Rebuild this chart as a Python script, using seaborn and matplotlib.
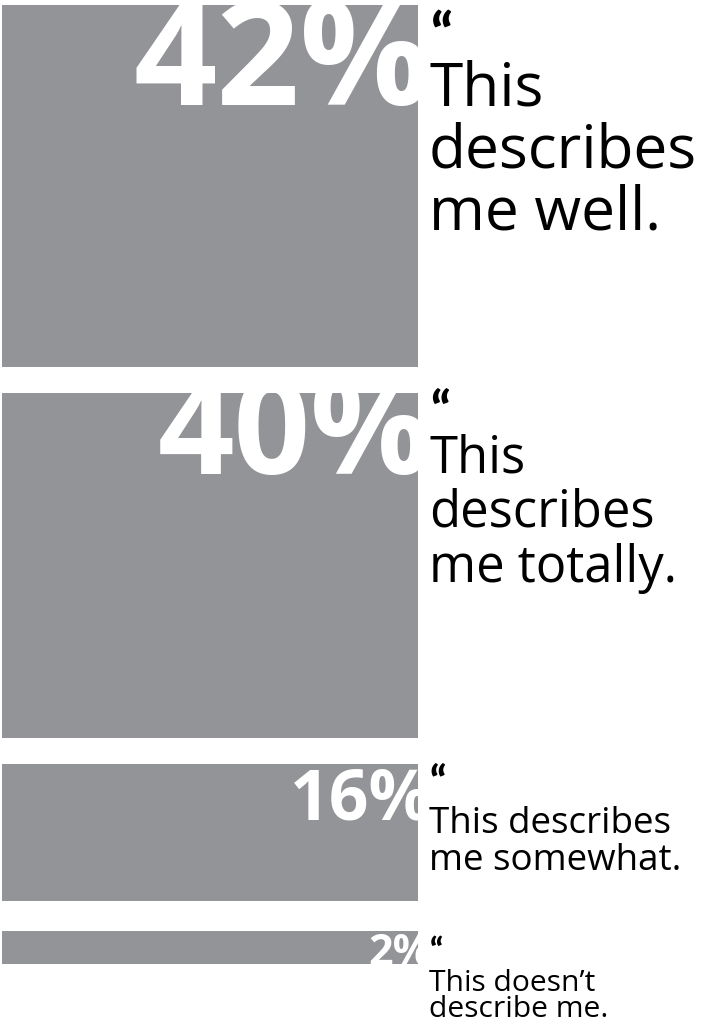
import matplotlib
matplotlib.use("Agg")
import matplotlib.pyplot as plt
import seaborn as sns

# ---- data ----
categories = ["This\ndescribes\nme well.",
              "This\ndescribes\nme totally.",
              "This describes\nme somewhat.",
              "This doesn\u2019t\ndescribe me."]
values = [42, 40, 16, 2]
value_labels = ["42%", "40%", "16%", "2%"]

# ---- style / layout ----
sns.set_style("white")
plt.rcParams["font.family"] = ["Open Sans", "DejaVu Sans"]

W, H, DPI = 703, 1024, 100
K = 8.62                  # pixels per percentage point
TOP = 5 / K               # top margin (units)
GAPS = [3.0, 3.0, 3.4]    # gaps between bars (units)
MIN_H = 3.8               # minimum drawn thickness for tiny shares
BAR_X0, BAR_X1 = 2, 418
BAR_COLOR = "#929497"

pct_size = [105, 96.5, 50, 31]          # pt
pct_base = [100, 81, 56, 34]            # px below bar top
pct_right = 432
lab_size = [43.5, 36.5, 26.5, 21.6]
lab_base = [[101, 163, 225], [80, 134, 189], [69, 106], [60, 86]]
quote_top = [8, -3, 1, 6]
quote_size = [40, 36, 30, 24]
TEXT_X = 429

fig = plt.figure(figsize=(W / DPI, H / DPI), dpi=DPI)
ax = fig.add_axes([0, 0, 1, 1])
ax.set_xlim(0, W)
ax.set_ylim(H / K, 0)
ax.axis("off")

heights = [max(v, MIN_H) for v in values]
tops = []
y = TOP
for i, h in enumerate(heights):
    tops.append(y)
    y += h + (GAPS[i] if i < len(GAPS) else 0)

bars = ax.barh([t + h / 2 for t, h in zip(tops, heights)],
               [BAR_X1 - BAR_X0] * len(values), height=heights,
               left=BAR_X0, color=BAR_COLOR, edgecolor="none")

for i, (bar, lab, cat) in enumerate(zip(bars, value_labels, categories)):
    t = tops[i]
    txt = ax.text(pct_right, t + pct_base[i] / K, lab, color="white",
                  fontsize=pct_size[i], fontweight="bold",
                  ha="right", va="baseline", zorder=3)
    txt.set_clip_path(bar)
    ax.text(TEXT_X + 1, t + quote_top[i] / K, "\u201c", color="black",
            fontsize=quote_size[i], fontweight="black",
            family=["Lato", "DejaVu Sans"], ha="left", va="top")
    for line, b in zip(cat.split("\n"), lab_base[i]):
        ax.text(TEXT_X, t + b / K, line, color="black",
                fontsize=lab_size[i], fontweight="normal",
                ha="left", va="baseline")

fig.savefig("out.png", dpi=DPI, facecolor="white")
